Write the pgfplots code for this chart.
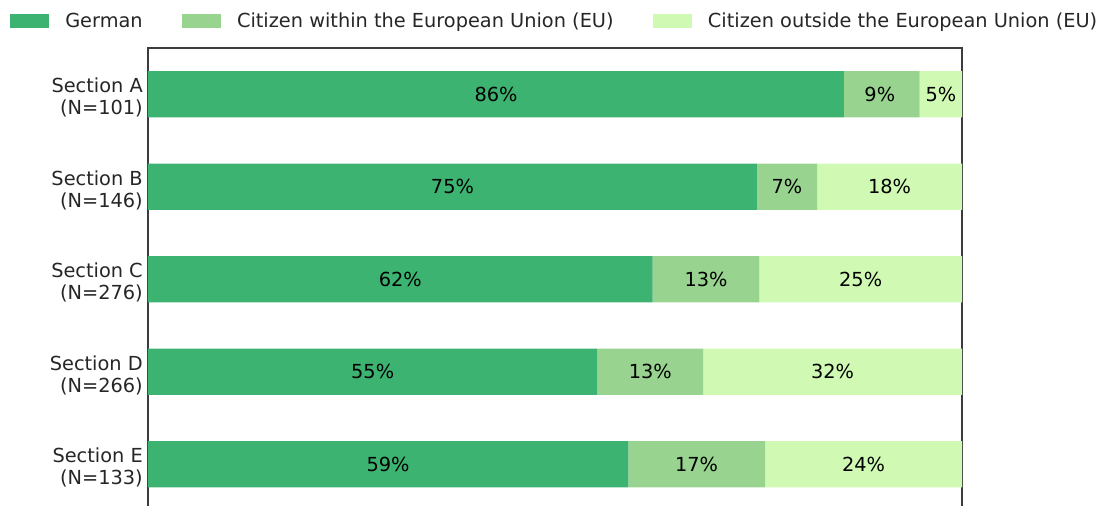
\documentclass[border=0pt]{standalone}
\usepackage{pgfplots}
\pgfplotsset{compat=1.18}
\usepackage{fontspec}
\setmainfont{DejaVu Sans}
\definecolor{cGer}{RGB}{60,179,113}
\definecolor{cEU}{RGB}{152,212,143}
\definecolor{cNon}{RGB}{208,249,180}
\definecolor{txt}{RGB}{38,38,38}
\definecolor{spine}{RGB}{60,60,60}
\newcommand{\fs}{\fontsize{14.5pt}{16.5pt}\selectfont}
\begin{document}
\begin{tikzpicture}
\pgfplotsset{common/.style={at={(0,0)}, anchor=south west, scale only axis,
  width=610.5pt, height=346.875pt, xmin=0, xmax=100, ymin=-0.5, ymax=4.5, y dir=reverse}}
\begin{axis}[common, xbar stacked, bar width=0.5,
  axis line style={spine, line width=1pt},
  xtick=\empty, ytick={0,1,2,3,4},
  yticklabels={{Section A\\(N=101)},{Section B\\(N=146)},{Section C\\(N=276)},{Section D\\(N=266)},{Section E\\(N=133)}},
  major tick length=0pt,
  yticklabel style={align=right, font=\fs, text=txt, inner sep=0pt, yshift=-2.5pt},
  yticklabel shift=3.75pt,
  legend columns=3,
  legend style={draw=none, fill=none, font=\fs, text=txt, at={(0,1)}, anchor=west,
    xshift=-103.5pt, yshift=20.25pt, inner sep=0pt, nodes={inner sep=0pt},
    /tikz/every even column/.append style={column sep=29.5pt},
    /tikz/every odd column/.append style={column sep=12pt}},
  legend cell align=left,
  legend image code/.code={\fill[#1] (0pt,-5.25pt) rectangle (29.25pt,5.25pt);},
]
\addplot[fill=cGer, draw=none] coordinates {(85.5,0) (74.8,1) (62.0,2) (55.2,3) (59.0,4)};
\addplot[fill=cEU, draw=none] coordinates {(9.3,0) (7.4,1) (13.1,2) (13.0,3) (16.8,4)};
\addplot[fill=cNon, draw=none] coordinates {(5.2,0) (17.8,1) (24.9,2) (31.8,3) (24.2,4)};
\legend{German, Citizen within the European Union (EU), Citizen outside the European Union (EU)}
\end{axis}
\begin{axis}[common, hide axis]
\addplot[draw=none, mark=none, point meta=explicit symbolic,
  nodes near coords={\pgfplotspointmeta\%},
  every node near coord/.append style={anchor=center, font=\fs, text=black, inner sep=0pt}]
  table[x=x, y=y, meta=l] {
x y l
42.75 0 86
89.9 0 9
97.4 0 5
37.4 1 75
78.5 1 7
91.1 1 18
31.0 2 62
68.55 2 13
87.55 2 25
27.6 3 55
61.7 3 13
84.1 3 32
29.5 4 59
67.4 4 17
87.9 4 24
};
\end{axis}
\pgfresetboundingbox
\path[use as bounding box] (-111pt,3.375pt) rectangle (719.25pt,382.875pt);
\end{tikzpicture}
\end{document}
